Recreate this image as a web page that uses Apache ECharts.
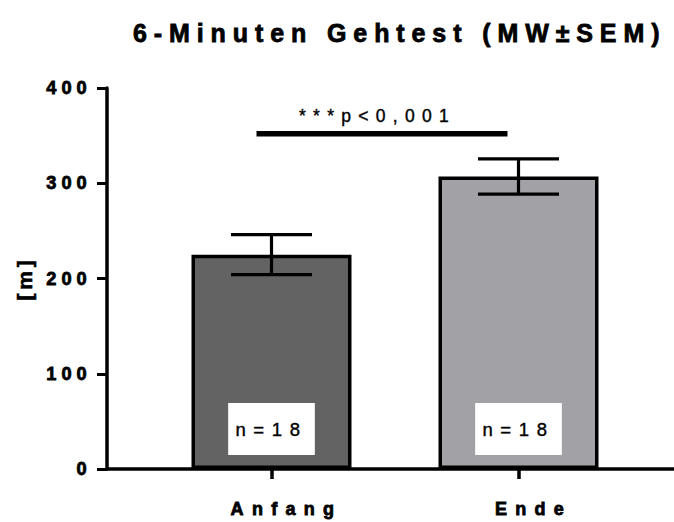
<!DOCTYPE html>
<html>
<head>
<meta charset="utf-8">
<script src="https://cdn.jsdelivr.net/npm/echarts@6/dist/echarts.min.js"></script>
<style>
  html, body { margin: 0; padding: 0; background: #fff; }
  #main { width: 674px; height: 522px; }
  /* wide letter spacing as in the reference export */
  #main text[style*="25px"] { letter-spacing: 6.9px; }
  #main text[style*="18.2px"] { letter-spacing: 5px; }
  #main text[style*="18px"] { letter-spacing: 8.3px; }
  #main text[style*="17.5px"] { letter-spacing: 7.3px; }
  #main text[style*="18.5px"] { letter-spacing: 7.6px; }
  #main text[style*="21px"] { letter-spacing: 3.7px; }
</style>
</head>
<body>
<div id="main"></div>
<script>
// ---- data ----
const titleText = '6-Minuten Gehtest (MW\u00B1SEM)';
const yAxisName = '[m]';
const categories = ['Anfang', 'Ende'];
const means = [225, 307];
const sems = [21, 18.5];
const nLabels = ['n=18', 'n=18'];
const barColors = ['#636363', '#a2a1a6'];
const yMin = 0, yMax = 400, yStep = 100;
const sigLabel = '***p<0,001';
const sigPair = [0, 1];
const sigValue = 352;

const FONT = 'Liberation Sans, Arial, Helvetica, sans-serif';

const errData = categories.map((c, i) => [i, means[i] - sems[i], means[i] + sems[i]]);
const sigData = [[sigPair[0], sigPair[1], sigValue]];

const chart = echarts.init(document.getElementById('main'), null, { renderer: 'svg' });

chart.setOption({
  animation: false,
  backgroundColor: '#fff',
  title: {
    text: titleText,
    left: 133,
    top: 20.5,
    padding: 0,
    textStyle: {
      fontFamily: FONT, fontSize: 25, fontWeight: 'bold', color: '#000', lineHeight: 25,
      textBorderColor: '#000', textBorderWidth: 0.8
    }
  },
  grid: [
    { left: 107, right: 0, top: 88, bottom: 53, outerBoundsMode: 'none', containLabel: false },
    { left: 148, width: 494, top: 88, bottom: 53, outerBoundsMode: 'none', containLabel: false }
  ],
  xAxis: [
    {
      gridIndex: 0, type: 'value', min: 0, max: 1,
      axisLine: { show: true, onZero: false, lineStyle: { color: '#000', width: 3.5 } },
      axisTick: { show: false }, axisLabel: { show: false }, splitLine: { show: false }
    },
    {
      gridIndex: 1, type: 'category', data: categories,
      axisLine: { show: false },
      axisTick: { show: true, alignWithLabel: true, length: 10, lineStyle: { color: '#000', width: 3.5 } },
      axisLabel: {
        show: true, margin: 31, color: '#000', fontFamily: FONT, fontSize: 18, fontWeight: 'bold',
        lineHeight: 18, padding: [0, 0, 0, 30],
        textBorderColor: '#000', textBorderWidth: 0.8
      },
      splitLine: { show: false }
    }
  ],
  yAxis: [
    {
      gridIndex: 0, type: 'value', min: yMin, max: yMax, interval: yStep,
      name: yAxisName, nameLocation: 'middle', nameGap: 72, nameRotate: 90,
      nameTextStyle: {
        fontFamily: FONT, fontSize: 21, fontWeight: 'bold', color: '#000', lineHeight: 21,
        textBorderColor: '#000', textBorderWidth: 0.6
      },
      axisLine: { show: true, lineStyle: { color: '#000', width: 3.5 } },
      axisTick: { show: true, length: 10, lineStyle: { color: '#000', width: 3 } },
      axisLabel: {
        margin: 15.3, color: '#000', fontFamily: FONT, fontSize: 18.2, fontWeight: 'bold',
        textBorderColor: '#000', textBorderWidth: 0.8
      },
      splitLine: { show: false }
    },
    {
      gridIndex: 1, type: 'value', min: yMin, max: yMax, interval: yStep, show: false,
      splitLine: { show: false }
    }
  ],
  series: [
    {
      type: 'bar',
      xAxisIndex: 1, yAxisIndex: 1,
      barWidth: 160,
      data: means.map((v, i) => ({ value: v, itemStyle: { color: barColors[i] } })),
      itemStyle: { borderColor: '#000', borderWidth: 3.5 },
      label: {
        show: true,
        position: 'insideBottom',
        distance: 14,
        formatter: p => nLabels[p.dataIndex],
        backgroundColor: '#fff',
        padding: [16, 22.5, 16, 22.5],
        lineHeight: 20,
        color: '#000',
        fontFamily: FONT,
        fontSize: 18.5,
        fontWeight: 'normal',
        textBorderColor: '#000',
        textBorderWidth: 0.4
      },
      z: 2
    },
    {
      type: 'custom',
      xAxisIndex: 1, yAxisIndex: 1,
      data: errData,
      z: 5,
      renderItem: function (params, api) {
        const x = api.value(0);
        const lo = api.coord([x, api.value(1)]);
        const hi = api.coord([x, api.value(2)]);
        const hw = 40.5;
        const st = { stroke: '#000', lineWidth: 3.2, fill: null };
        return {
          type: 'group',
          children: [
            { type: 'line', shape: { x1: lo[0], y1: lo[1], x2: hi[0], y2: hi[1] }, style: st },
            { type: 'line', shape: { x1: hi[0] - hw, y1: hi[1], x2: hi[0] + hw, y2: hi[1] }, style: st },
            { type: 'line', shape: { x1: lo[0] - hw, y1: lo[1], x2: lo[0] + hw, y2: lo[1] }, style: st }
          ]
        };
      }
    },
    {
      type: 'custom',
      xAxisIndex: 1, yAxisIndex: 1,
      data: sigData,
      z: 6,
      renderItem: function (params, api) {
        const a = api.coord([api.value(0), api.value(2)]);
        const b = api.coord([api.value(1), api.value(2)]);
        const x1 = a[0] - 15, x2 = b[0] - 11;
        const mid = (x1 + x2) / 2;
        return {
          type: 'group',
          children: [
            { type: 'line', shape: { x1: x1, y1: a[1], x2: x2, y2: a[1] }, style: { stroke: '#000', lineWidth: 5.5, fill: null } },
            {
              type: 'text',
              style: {
                text: sigLabel, x: mid - 4.5, y: a[1] - 18,
                fontFamily: FONT, fontSize: 17.5, fontWeight: 'normal',
                fill: '#000', align: 'center', verticalAlign: 'middle',
                stroke: '#000', lineWidth: 0.4
              }
            }
          ]
        };
      }
    }
  ]
});
</script>
</body>
</html>
